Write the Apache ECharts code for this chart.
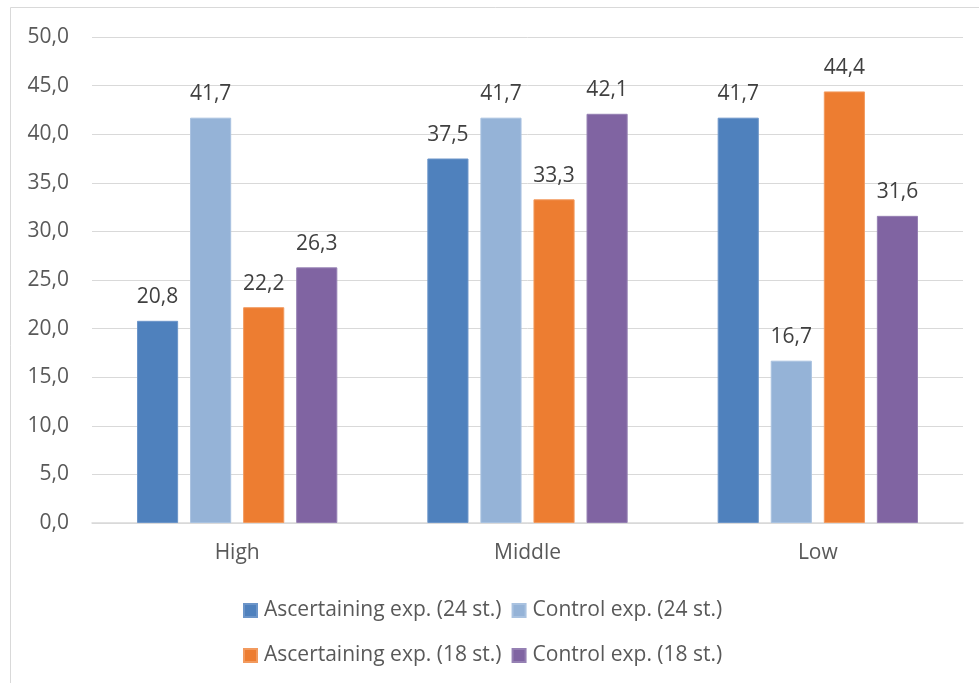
<!DOCTYPE html>
<html>
<head>
<meta charset="utf-8">
<script src="https://cdn.jsdelivr.net/npm/echarts@6/dist/echarts.min.js"></script>
<style>
  html, body { margin: 0; padding: 0; background: #ffffff; }
  #chart { width: 979px; height: 683px; }
</style>
</head>
<body>
<div id="chart"></div>
<script>
// Achievement levels and shares (%) per experiment group
const categories = ['High', 'Middle', 'Low'];
const seriesNames = [
  'Ascertaining exp. (24 st.)',
  'Control exp. (24 st.)',
  'Ascertaining exp. (18 st.)',
  'Control exp. (18 st.)'
];
const ascertaining24 = [20.8, 37.5, 41.7];
const control24 = [41.7, 41.7, 16.7];
const ascertaining18 = [22.2, 33.3, 44.4];
const control18 = [26.3, 42.1, 31.6];

const seriesValues = [ascertaining24, control24, ascertaining18, control18];
const colors = ['#4F81BD', '#95B3D7', '#ED7D31', '#8064A2'];
const borders = ['#6C95C9', '#A9C2E0', '#F29A5E', '#9580B3'];

const FONT = 'Open Sans';
const TEXT = '#595959';

const fmt = v => v.toFixed(1).replace('.', ',');

const chart = echarts.init(document.getElementById('chart'), null, { renderer: 'canvas' });

const legendBase = {
  left: 243,
  padding: 0,
  itemWidth: 13, itemHeight: 13, itemGap: 10,
  icon: 'rect',
  textStyle: { fontFamily: FONT, fontSize: 21, color: TEXT, padding: [0, 0, 0, 2] }
};

chart.setOption({
  backgroundColor: '#ffffff',
  animation: false,
  textStyle: { fontFamily: FONT, color: TEXT },
  graphic: [{
    type: 'rect',
    shape: { x: 10.5, y: 7.5, width: 1000, height: 700 },
    style: { fill: 'none', stroke: '#d9d9d9', lineWidth: 1 },
    silent: true
  }],
  grid: { left: 92, right: 16, top: 37, bottom: 160, containLabel: false },
  legend: [
    Object.assign({ data: seriesNames.slice(0, 2), top: 600 }, legendBase),
    Object.assign({ data: seriesNames.slice(2, 4), top: 645 }, legendBase)
  ],
  xAxis: {
    type: 'category',
    data: categories,
    axisLine: { lineStyle: { color: '#d9d9d9', width: 1.5 } },
    axisTick: { show: false },
    axisLabel: { fontFamily: FONT, fontSize: 21, color: TEXT, margin: 20 }
  },
  yAxis: {
    type: 'value',
    min: 0, max: 50, interval: 5,
    axisLine: { show: false },
    axisTick: { show: false },
    splitLine: { lineStyle: { color: '#d9d9d9', width: 1 } },
    axisLabel: { fontFamily: FONT, fontSize: 21, color: TEXT, margin: 23, formatter: v => fmt(v) }
  },
  series: seriesValues.map((vals, i) => ({
    name: seriesNames[i],
    type: 'bar',
    data: vals,
    barGap: '29%',
    barCategoryGap: '31%',
    itemStyle: { color: colors[i], borderColor: borders[i], borderWidth: 1 },
    label: {
      show: true,
      position: 'top',
      distance: 13,
      fontFamily: FONT,
      fontSize: 21,
      color: '#404040',
      formatter: p => fmt(p.value)
    }
  }))
});
</script>
</body>
</html>
